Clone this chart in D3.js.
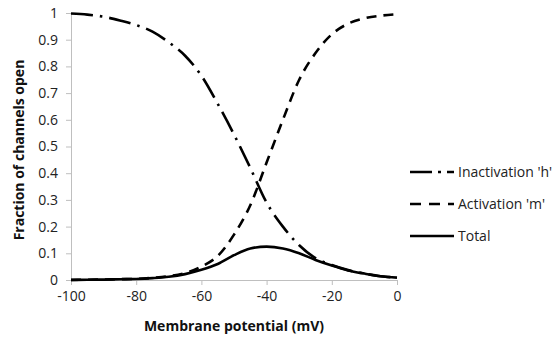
<!DOCTYPE html>
<html><head><meta charset="utf-8">
<script src="https://cdn.jsdelivr.net/npm/d3@7"></script>
<style>body{margin:0;background:#fff;} text{font-family:"Open Sans",sans-serif;}</style>
</head><body>
<svg id="c" width="558" height="339"></svg>
<script>
const voltage = [-100,-95,-90,-85,-80,-75,-70,-65,-60,-55,-50,-45,-40,-35,-30,-25,-20,-15,-10,-5,0];
const inactivationH = [0.998,0.994,0.986,0.972,0.955,0.93,0.89,0.84,0.765,0.66,0.545,0.42,0.29,0.2,0.13,0.082,0.056,0.037,0.024,0.014,0.009];
const activationM = [0.0005,0.001,0.0015,0.003,0.004,0.008,0.014,0.026,0.05,0.09,0.17,0.28,0.44,0.6,0.75,0.85,0.92,0.96,0.98,0.99,0.995];
const total = [0.0,0.001,0.0015,0.003,0.004,0.007,0.012,0.022,0.038,0.06,0.093,0.118,0.125,0.118,0.1,0.075,0.054,0.036,0.024,0.014,0.009];
const xTicks = [-100,-80,-60,-40,-20,0];
const yTicks = [0,0.1,0.2,0.3,0.4,0.5,0.6,0.7,0.8,0.9,1];
const seriesNames = ["Inactivation 'h'","Activation 'm'","Total"];

const svg = d3.select("#c");
const x = d3.scaleLinear().domain([-100,0]).range([71,397]);
const y = d3.scaleLinear().domain([0,1]).range([280,13]);

const xAxis = svg.append("g").attr("transform","translate(0,280)")
  .call(d3.axisBottom(x).tickValues(xTicks).tickSize(5).tickPadding(6).tickFormat(d=>String(d)));
const yAxis = svg.append("g").attr("transform","translate(71,0)")
  .call(d3.axisLeft(y).tickValues(yTicks).tickSize(5).tickPadding(8).tickFormat(d=>String(d)));
[xAxis,yAxis].forEach(a=>{
  a.selectAll("path,line").attr("stroke","#bfbfbf").attr("stroke-width",1);
  a.selectAll("text").attr("fill","#222").style("font-size","14px").style("font-family","'Open Sans',sans-serif");
});

const styles = [
  {dash:"22,7,2.5,7", w:2.6},
  {dash:"10,7", w:2.6},
  {dash:null, w:2.6}
];
const data = [inactivationH, activationM, total];
const line = d3.line().x((d,i)=>x(voltage[i])).y(d=>y(d)).curve(d3.curveMonotoneX);
data.forEach((s,k)=>{
  const p = svg.append("path").datum(s).attr("d",line).attr("fill","none")
    .attr("stroke","#000").attr("stroke-width",styles[k].w);
  if(styles[k].dash) p.attr("stroke-dasharray",styles[k].dash);
});

const lg = svg.append("g");
seriesNames.forEach((n,k)=>{
  const yy = 172 + k*32;
  const l = lg.append("line").attr("x1",410).attr("x2",454).attr("y1",yy).attr("y2",yy)
    .attr("stroke","#000").attr("stroke-width",styles[k].w);
  if(styles[k].dash) l.attr("stroke-dasharray", k===0 ? "22,6,3,6" : "11,8");
  lg.append("text").attr("x",458).attr("y",yy).attr("dy","0.35em")
    .style("font-size","14px").attr("fill","#222").text(n);
});

svg.append("text").attr("x",234).attr("y",331).attr("text-anchor","middle")
  .style("font-size","14px").style("font-weight","bold").attr("fill","#111").text("Membrane potential (mV)");
svg.append("text").attr("transform","translate(24,150) rotate(-90)").attr("text-anchor","middle")
  .style("font-size","14px").style("font-weight","bold").attr("fill","#111").text("Fraction of channels open");
</script>
</body></html>
